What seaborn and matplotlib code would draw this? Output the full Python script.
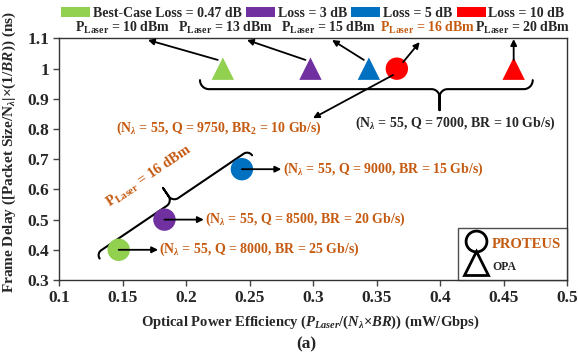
import numpy as np
import pandas as pd
import seaborn as sns
import matplotlib.pyplot as plt
from matplotlib.patches import Patch
from matplotlib.lines import Line2D

# data
loss_labels = ['Best-Case Loss = 0.47 dB', 'Loss = 3 dB', 'Loss = 5 dB', 'Loss = 10 dB']
loss_colors = ['#92D050', '#7030A0', '#0070C0', '#FF0000']

proteus_eff = [0.147, 0.183, 0.244, 0.366]
proteus_delay = [0.4, 0.5, 0.667, 1.0]
proteus_q = [8000, 8500, 9000, 9750]
proteus_br = [25, 20, 15, 10]

opa_eff = [0.229, 0.298, 0.344, 0.458]
opa_delay = [1.0, 1.0, 1.0, 1.0]

laser_dbm = [10, 13, 15, 20]
proteus_laser = 16

ORANGE = '#C55A11'

sns.set_style('ticks')
plt.rcParams['font.family'] = ['Liberation Serif', 'DejaVu Serif']
plt.rcParams['font.weight'] = 'bold'
plt.rcParams['mathtext.fontset'] = 'custom'
plt.rcParams['mathtext.rm'] = 'Liberation Serif:bold'
plt.rcParams['mathtext.it'] = 'Liberation Serif:bold:italic'
plt.rcParams['mathtext.bf'] = 'Liberation Serif:bold'

df = pd.DataFrame({
    'eff': proteus_eff + opa_eff,
    'delay': proteus_delay + opa_delay,
    'loss': loss_labels * 2,
    'arch': ['PROTEUS'] * 4 + ['OPA'] * 4,
})

fig = plt.figure(figsize=(5.78, 3.59), dpi=100)
ax = fig.add_axes([0.1021, 0.2201, 0.8789, 0.6727])

sns.scatterplot(data=df, x='eff', y='delay', hue='loss', style='arch',
                palette=dict(zip(loss_labels, loss_colors)),
                markers={'PROTEUS': 'o', 'OPA': '^'}, s=260, linewidth=0,
                legend=False, ax=ax, zorder=3)

ax.set_xlim(0.1, 0.5)
ax.set_ylim(0.3, 1.1)
ax.set_xticks(np.arange(0.1, 0.501, 0.05))
ax.set_xticklabels(['0.1', '0.15', '0.2', '0.25', '0.3', '0.35', '0.4', '0.45', '0.5'])
ax.set_yticks(np.arange(0.3, 1.101, 0.1))
ax.set_yticklabels(['0.3', '0.4', '0.5', '0.6', '0.7', '0.8', '0.9', '1', '1.1'])
ax.tick_params(labelsize=12.5, length=4, width=1, color='#444444', pad=3)
for sp in ax.spines.values():
    sp.set_color('#333333')
    sp.set_linewidth(1)

ax.set_xlabel(r'Optical Power Efficiency ($P_{Laser}$/($N_{\lambda}$×$BR$)) (mW/Gbps)',
              fontsize=10.5, fontweight='bold')
ax.xaxis.set_label_coords(0.494, -0.175)
ax.xaxis.label.set_va('center')
ax.set_ylabel(r'Frame Delay ([Packet Size/N$_{\lambda}$|×(1/$BR$)) (ns)',
              fontsize=11, fontweight='bold')
ax.yaxis.set_label_coords(-0.097, 0.53)
ax.yaxis.label.set_va('center')

fig.text(0.53, 0.04, '(a)', ha='center', va='center', fontsize=12.5, fontweight='bold')

# top legend (loss)
handles = [Patch(facecolor=c, edgecolor='none') for c in loss_colors]
fig.legend(handles, loss_labels,
           loc='center', bbox_to_anchor=(0.541, 0.963), ncol=4, frameon=False,
           fontsize=10, handlelength=2.1, handleheight=0.75, handletextpad=0.2,
           columnspacing=0.3, borderpad=0)

# arch legend
arch_handles = [Line2D([], [], ls='none', marker='o', mfc='none', mec='k', mew=2, ms=15),
                Line2D([], [], ls='none', marker='^', mfc='none', mec='k', mew=2, ms=17)]
leg = ax.legend(arch_handles, ['PROTEUS', 'OPA'], loc='lower right', borderaxespad=0,
                fancybox=False, edgecolor='#222222', fontsize=10.5, handletextpad=0.3,
                handlelength=1.6, handleheight=1.5, labelspacing=0.3, borderpad=0.4)
leg.get_frame().set_linewidth(1)
leg.get_texts()[0].set_color(ORANGE)
leg.get_texts()[1].set_fontsize(8.5)


def plaser(v):
    return r'P$_{\mathrm{Laser}}$ = %d dBm' % v


def arrow(head, tail):
    ax.annotate('', xy=head, xytext=tail, annotation_clip=False,
                arrowprops=dict(arrowstyle='-|>', color='k', lw=1.3,
                                mutation_scale=9, shrinkA=0, shrinkB=0), zorder=4)


def brace(p0, p1, r, rm, stem, f=0.5):
    # curly brace between two data points, tip to the right of p0->p1,
    # tip located at fraction f of the way from p0
    a = ax.transData.transform(p0)
    b = ax.transData.transform(p1)
    d = b - a
    L = np.hypot(*d)
    u = d / L
    n = np.array([u[1], -u[0]])
    th = np.linspace(0, np.pi / 2, 20)

    def half(m):
        s = np.concatenate([r - r * np.cos(th), m - rm + rm * np.sin(th), [m]])
        t = np.concatenate([r * np.sin(th), r + rm - rm * np.cos(th), [r + rm + stem]])
        return s, t

    s1, t1 = half(f * L)
    s2, t2 = half((1 - f) * L)
    s = np.concatenate([s1, (L - s2)[::-1]])
    t = np.concatenate([t1, t2[::-1]])
    pts = a + np.outer(s, u) + np.outer(t, n)
    pts = ax.transData.inverted().transform(pts)
    ax.plot(pts[:, 0], pts[:, 1], color='k', lw=1.5, clip_on=False,
            solid_capstyle='round')


# OPA laser power labels
label_x = [0.150, 0.231, 0.312, 0.465]
head_pts = [(0.170, 1.095), (0.248, 1.095), (0.315, 1.095), (0.458, 1.098)]
for i in range(4):
    ax.text(label_x[i], 1.135, plaser(laser_dbm[i]), ha='center', va='center',
            fontsize=10)
    arrow(head_pts[i], (opa_eff[i] - 0.004 * (i < 3), opa_delay[i] + 0.029))

# PROTEUS 16 dBm label at top
ax.text(0.390, 1.135, plaser(proteus_laser), ha='center', va='center',
        fontsize=10, color=ORANGE)
arrow((0.384, 1.088), (proteus_eff[3] + 0.005, proteus_delay[3] + 0.022))

# brace under the loss-10 group
brace((0.211, 0.962), (0.473, 0.962), 9, 8, 13, f=0.72)
ax.text(0.412, 0.819, r'(N$_{\lambda}$ = 55, Q = 7000, BR = 10 Gb/s)',
        ha='center', va='center', fontsize=10)

# PROTEUS 10 Gb/s config
arrow((0.300, 0.836), (proteus_eff[3] - 0.003, proteus_delay[3] - 0.021))
ax.text(0.226, 0.802, r'(N$_{\lambda}$ = 55, Q = %d, BR$_{2}$ = %d Gb/s)' % (proteus_q[3], proteus_br[3]),
        ha='center', va='center', fontsize=10, color=ORANGE)

# PROTEUS configs next to each circle
for i in range(3):
    hx = proteus_eff[i] + 0.031
    arrow((hx, proteus_delay[i]), (proteus_eff[i], proteus_delay[i]))
    ax.text(hx + 0.001, proteus_delay[i],
            r'(N$_{\lambda}$ = 55, Q = %d, BR = %d Gb/s)' % (proteus_q[i], proteus_br[i]),
            ha='left', va='center', fontsize=10, color=ORANGE)

# slanted brace grouping the 16 dBm PROTEUS points
brace((0.252, 0.713), (0.132, 0.371), 6, 7, 10)
ax.text(0.171, 0.643, r'P$_{\mathrm{Laser}}$ = 16 dBm', ha='center', va='center',
        fontsize=10.5, color=ORANGE, rotation=34, rotation_mode='anchor')

fig.savefig('out.png', dpi=100)
